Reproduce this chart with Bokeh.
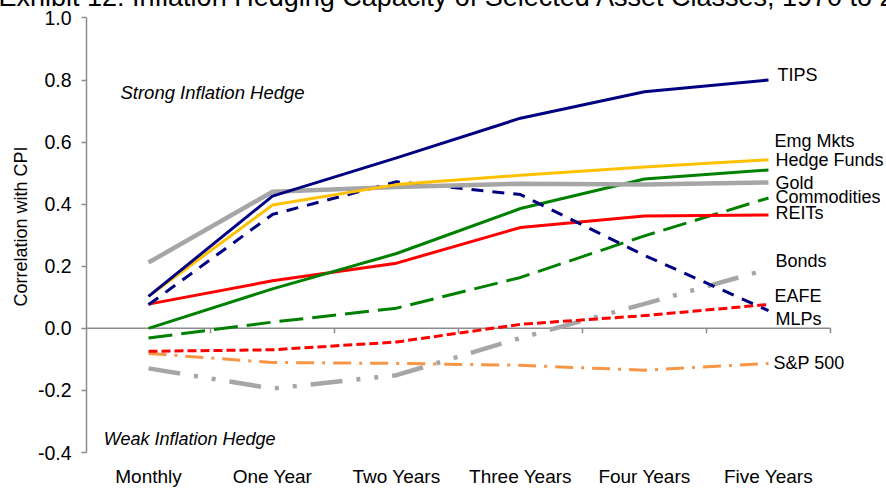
from bokeh.plotting import figure
from bokeh.models import Range1d, FixedTicker, Label, NumeralTickFormatter
from bokeh.embed import file_html
from bokeh.resources import INLINE

# ---------------- data ----------------
categories = ["Monthly", "One Year", "Two Years", "Three Years", "Four Years", "Five Years"]

tips        = [0.103, 0.426, 0.549, 0.677, 0.762, 0.800]
hedge_funds = [0.103, 0.397, 0.463, 0.493, 0.520, 0.543]
gold        = [0.212, 0.440, 0.455, 0.466, 0.463, 0.470]
emg_mkts    = [0.000, 0.127, 0.241, 0.386, 0.481, 0.510]
commodities = [-0.031, 0.020, 0.065, 0.164, 0.298, 0.420]
reits       = [0.078, 0.153, 0.210, 0.325, 0.362, 0.365]
mlps        = [0.076, 0.367, 0.472, 0.431, 0.235, 0.057]
eafe        = [-0.074, -0.069, -0.044, 0.013, 0.041, 0.077]
sp500       = [-0.081, -0.110, -0.113, -0.119, -0.135, -0.113]
bonds       = [-0.129, -0.194, -0.151, -0.031, 0.079, 0.191]

y_ticks = [-0.4, -0.2, 0.0, 0.2, 0.4, 0.6, 0.8, 1.0]

title_text = "Exhibit 12: Inflation Hedging Capacity of Selected Asset Classes, 1970 to 2"
y_label = "Correlation with CPI"
strong_text = "Strong Inflation Hedge"
weak_text = "Weak Inflation Hedge"

# ---------------- styling ----------------
FONT = "Liberation Sans"
AXIS_COLOR = "#8c8c8c"
W, H = 886, 489
BL, BB = 86, 35                  # borders (px)
TOP_GAP = 17.5                   # px between canvas top and the top tick
CAT_PX = 124                     # pixel width of one category slot
Y0, Y1 = y_ticks[0], y_ticks[-1]

xs = list(range(len(categories)))
x_end = -0.5 + (W - BL) / CAT_PX
y_top = Y1 + TOP_GAP * (Y1 - Y0) / (H - TOP_GAP - BB)

p = figure(width=W, height=H, output_backend="svg", toolbar_location=None,
           x_range=Range1d(-0.5, x_end), y_range=Range1d(Y0, y_top),
           min_border_left=BL, min_border_right=0, min_border_top=0, min_border_bottom=BB)
p.outline_line_color = None
p.xgrid.visible = False
p.ygrid.visible = False
p.background_fill_color = "white"
p.border_fill_color = "white"

# title: cut off at the top edge as in the source image
p.title.text = title_text
p.title.text_font = FONT
p.title.text_font_size = "27px"
p.title.text_font_style = "normal"
p.title.text_color = "black"
p.title.align = "left"
p.title.vertical_align = "top"
p.title.offset = -88
p.title.standoff = -37

# y axis
ya = p.yaxis[0]
ya.bounds = (Y0, Y1)
ya.ticker = FixedTicker(ticks=y_ticks, minor_ticks=[])
ya.formatter = NumeralTickFormatter(format="0.0")
ya.axis_line_color = AXIS_COLOR
ya.axis_line_width = 1.5
ya.major_tick_line_color = AXIS_COLOR
ya.major_tick_line_width = 1.5
ya.major_tick_out = 5
ya.major_tick_in = 0
ya.minor_tick_line_color = None
ya.major_label_standoff = 10
ya.major_label_text_font = FONT
ya.major_label_text_font_size = "19.5px"
ya.major_label_text_color = "black"
ya.axis_label = y_label
ya.axis_label_text_font = FONT
ya.axis_label_text_font_size = "18px"
ya.axis_label_text_font_style = "normal"
ya.axis_label_text_color = "black"
ya.axis_label_standoff = 4

# x axis (category labels only)
xa = p.xaxis[0]
xa.ticker = FixedTicker(ticks=xs, minor_ticks=[])
xa.major_label_overrides = {i: c for i, c in zip(xs, categories)}
xa.axis_line_color = None
xa.major_tick_line_color = None
xa.major_tick_out = 0
xa.major_tick_in = 0
xa.minor_tick_line_color = None
xa.major_label_standoff = 13
xa.major_label_text_font = FONT
xa.major_label_text_font_size = "19px"
xa.major_label_text_color = "black"

# zero line across the category slots, with ticks at slot boundaries
left_edge = xs[0] - 0.5
right_edge = xs[-1] + 0.5
p.segment(x0=[left_edge], y0=[0], x1=[right_edge], y1=[0], line_color=AXIS_COLOR, line_width=1.5)
frame_h = H - BB
tick_len = 5 * (y_top - Y0) / frame_h
bounds = [i + 0.5 for i in xs]
p.segment(x0=bounds, y0=[0] * len(bounds), x1=bounds, y1=[-tick_len] * len(bounds),
          line_color=AXIS_COLOR, line_width=1.5)

# ---------------- series ----------------
series = [
    # name, values, color, width, dash, label y, label x offset
    ("Bonds", bonds, "#a6a6a6", 4.5, "32 14 4 14 4 14", 0.218, 7),
    ("S&P 500", sp500, "#f79646", 3, "18 8 3 8", -0.113, 5),
    ("EAFE", eafe, "#ff0000", 3, "9 4", 0.103, 6),
    ("Commodities", commodities, "#008000", 3, "24 9", 0.424, 7),
    ("REITs", reits, "#ff0000", 3, "solid", 0.373, 7),
    ("Emg Mkts", emg_mkts, "#008000", 3, "solid", 0.605, 6),
    ("MLPs", mlps, "#000080", 3, "12 9", 0.031, 7),
    ("Gold", gold, "#a6a6a6", 4.5, "solid", 0.467, 7),
    ("Hedge Funds", hedge_funds, "#ffc000", 3, "solid", 0.541, 7),
    ("TIPS", tips, "#000080", 3, "solid", 0.816, 9),
]

for name, vals, color, lw, dash, ly, xo in series:
    p.line(xs, vals, line_color=color, line_width=lw, line_dash=dash, line_join="round")
    p.add_layout(Label(x=xs[-1], y=ly, x_offset=xo, text=name, text_baseline="middle",
                       text_align="left", text_font=FONT, text_font_size="18px",
                       text_color="black"))

# ---------------- annotations ----------------
p.add_layout(Label(x=-0.226, y=0.761, text=strong_text, text_baseline="middle",
                   text_font=FONT, text_font_size="18.5px", text_font_style="italic",
                   text_color="black"))
p.add_layout(Label(x=-0.361, y=-0.356, text=weak_text, text_baseline="middle",
                   text_font=FONT, text_font_size="18px", text_font_style="italic",
                   text_color="black"))

open("out.html", "w").write(file_html(p, INLINE))
